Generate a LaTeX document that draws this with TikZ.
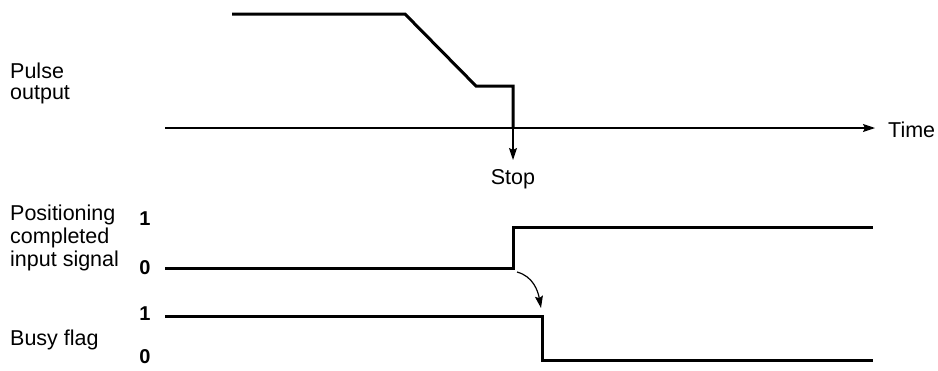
\documentclass[tikz,border=0pt]{standalone}
\usepackage{fontspec}
\setmainfont{Liberation Sans}
\usetikzlibrary{arrows.meta}
\begin{document}
\begin{tikzpicture}[x=1pt,y=1pt,
  sig/.style={line width=3pt,line join=miter},
  axis/.style={line width=1.2pt},
  lbl/.style={font=\fontsize{21.5}{23}\selectfont,inner sep=0pt,anchor=west,align=left},
  lvl/.style={font=\fontsize{20}{22}\selectfont\bfseries,inner sep=0pt},
  tip/.style={-{Stealth[length=12pt,width=8pt,inset=2pt]}}]
\useasboundingbox (0,0) rectangle (938,-370);
% labels
\node[lbl,anchor=north west,font=\fontsize{21.5}{21}\selectfont] (pulse) at (10,-63) {Pulse\\output};
\node[lbl,anchor=north west] (pos) at (10,-205) {Positioning\\completed\\input signal};
\node[lbl] (busy) at (10,-340) {Busy flag};
\node[lvl] (p1) at (145,-219) {1};
\node[lvl] (p0) at (145,-268) {0};
\node[lvl] (b1) at (145,-314) {1};
\node[lvl] (b0) at (145,-357) {0};
% time axis
\coordinate (t0) at (165,-128);
\coordinate (t1) at (875,-128);
\draw[axis,tip] (t0) -- (t1);
\node[lbl] (time) at (888,-130) {Time};
% pulse output
\coordinate (stopc) at (513,-128);
\draw[sig] (232,-14) -- (405,-14) -- (476,-86) -- (513,-86) -- (stopc);
\coordinate (stopend) at (513,-160);
\draw[axis,tip] (stopc) -- (stopend);
\node[lbl,anchor=center] (stop) at (513,-179) {Stop};
% positioning completed
\coordinate (pc) at (513,-268);
\draw[sig] (165,-268) -- (pc) -- (513,-227) -- (873,-227);
% busy flag
\coordinate (bf) at (542,-316);
\draw[sig] (165,-316) -- (bf) -- (542,-360) -- (873,-360);
% causal arrow
\coordinate (ca) at (517,-272);
\coordinate (cb) at (541,-308);
\draw[axis,tip] (ca) to[out=-15,in=100] (cb);
\end{tikzpicture}
\end{document}
